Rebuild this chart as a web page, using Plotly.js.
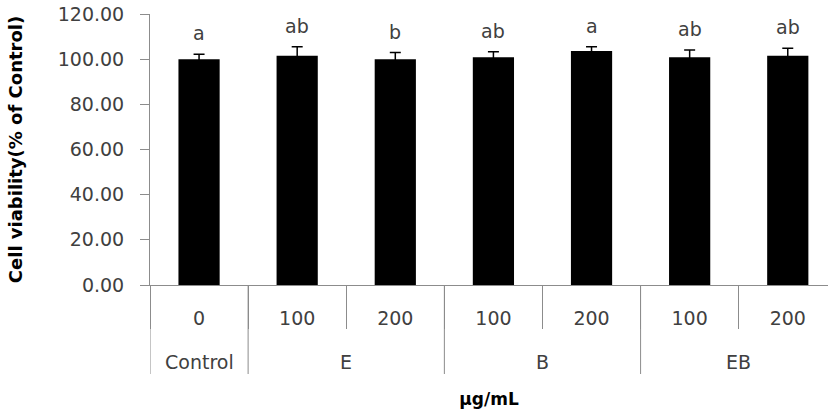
<!DOCTYPE html>
<html>
<head>
<meta charset="utf-8">
<script src="https://cdn.plot.ly/plotly-3.0.1.min.js"></script>
<style>html,body{margin:0;padding:0;background:#fff;}#chart{width:828px;height:411px;}</style>
</head>
<body>
<div id="chart"></div>
<script>
// Data
const groups = ["Control", "E", "E", "B", "B", "EB", "EB"];
const doses = ["0", "100", "200", "100", "200", "100", "200"];
const viability = [100.0, 101.5, 100.0, 100.8, 103.6, 100.8, 101.5];
const errors = [2.2, 4.0, 2.9, 2.5, 1.9, 3.3, 3.3];
const letters = ["a", "ab", "b", "ab", "a", "ab", "ab"];
const yTicks = [0, 20, 40, 60, 80, 100, 120];

const textColor = "#404040";
const lineColor = "#8c8c8c";
const font = "DejaVu Sans, Verdana, sans-serif";

// unique category keys, shown with the dose text
const keys = groups.map((g, i) => g + " " + doses[i]);

const bars = {
  type: "bar",
  x: keys,
  y: viability,
  width: 0.42,
  marker: {color: "#000000", line: {width: 0}},
  error_y: {type: "data", array: errors, visible: true, color: "#000000", thickness: 1.5, width: 5.5},
  hoverinfo: "skip",
  showlegend: false
};

// significance letters above the error bars
const letterAnns = letters.map((t, i) => ({
  x: i, xref: "x", y: viability[i] + errors[i], yref: "y",
  text: t, showarrow: false, yanchor: "bottom", yshift: 8,
  font: {family: font, size: 19, color: textColor}
}));

// group labels and long dividers, derived from the groups array
const groupAnns = [];
const shapes = [];
let start = 0;
for (let i = 1; i <= groups.length; i++) {
  if (i === groups.length || groups[i] !== groups[start]) {
    groupAnns.push({
      x: (start + i - 1) / 2, xref: "x", y: 0, yref: "paper",
      text: groups[start], showarrow: false, yanchor: "middle", yshift: -77,
      font: {family: font, size: 19, color: textColor}
    });
    start = i;
  }
}
const bounds = [-0.5];
for (let i = 1; i < groups.length; i++) if (groups[i] !== groups[i - 1]) bounds.push(i - 0.5);
bounds.push(groups.length - 0.5);
bounds.forEach(b => shapes.push({
  type: "line", xref: "x", x0: b, x1: b,
  yref: "paper", ysizemode: "pixel", yanchor: 0, y0: -89, y1: 0,
  line: {color: lineColor, width: 1}
}));

const layout = {
  width: 828,
  height: 411,
  margin: {l: 150, r: 0, t: 14, b: 126},
  paper_bgcolor: "#ffffff",
  plot_bgcolor: "#ffffff",
  font: {family: font, size: 18, color: textColor},
  xaxis: {
    type: "category",
    range: [-0.5, 6.41],
    tickvals: keys,
    ticktext: doses,
    showline: true,
    linecolor: lineColor,
    linewidth: 1,
    ticks: "outside",
    tickson: "boundaries",
    ticklen: 43,
    tickcolor: lineColor,
    tickwidth: 1,
    ticklabelstandoff: 16,
    showgrid: false,
    zeroline: false,
    tickfont: {family: font, size: 19, color: textColor},
    title: {text: "µg/mL", standoff: 65, font: {family: font, size: 17, color: "#000000", weight: "bold"}}
  },
  yaxis: {
    range: [0, 120],
    tickvals: yTicks,
    tickformat: ".2f",
    showline: true,
    linecolor: lineColor,
    linewidth: 1,
    ticks: "outside",
    ticklen: 9,
    tickcolor: lineColor,
    ticklabelstandoff: 12,
    showgrid: false,
    zeroline: false,
    tickfont: {family: font, size: 19, color: textColor},
    title: {text: "Cell viability(% of Control)", standoff: 30, font: {family: font, size: 18, color: "#000000", weight: "bold"}}
  },
  annotations: letterAnns.concat(groupAnns),
  shapes: shapes
};

Plotly.newPlot("chart", [bars], layout, {displayModeBar: false, staticPlot: true});
</script>
</body>
</html>
